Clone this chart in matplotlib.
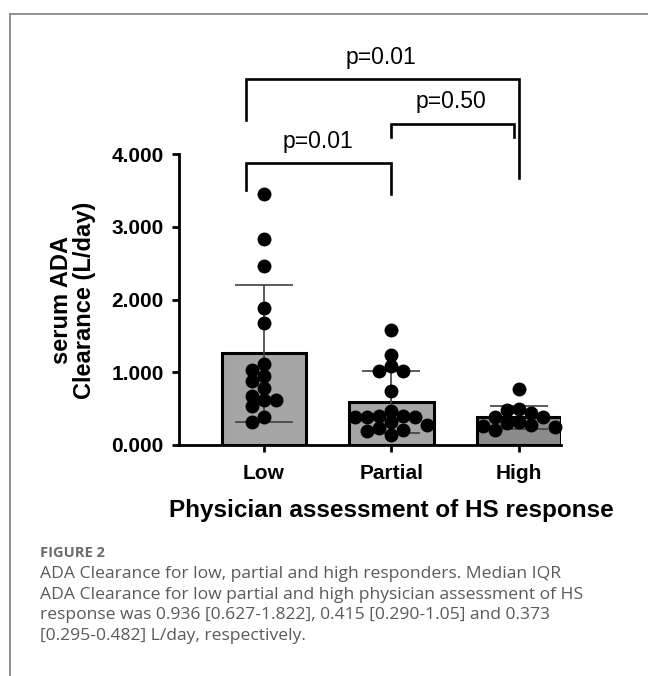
import numpy as np
import matplotlib
matplotlib.use('Agg')
import matplotlib.pyplot as plt
from matplotlib.lines import Line2D

# data
groups = ['Low', 'Partial', 'High']
means = [1.26, 0.59, 0.38]
sds = [0.94, 0.43, 0.16]
low = [3.45, 2.83, 2.46, 1.89, 1.68, 1.11, 1.03, 0.95, 0.88, 0.78, 0.68,
       0.62, 0.62, 0.53, 0.38, 0.31]
partial = [1.58, 1.24, 1.09, 1.02, 1.02, 0.74, 0.47, 0.40, 0.40, 0.38,
           0.38, 0.38, 0.32, 0.27, 0.24, 0.21, 0.19, 0.14]
high = [0.77, 0.49, 0.48, 0.44, 0.38, 0.38, 0.32, 0.30, 0.28, 0.26, 0.25, 0.21]
points = [low, partial, high]
bar_colors = ['#a5a5a5', '#a5a5a5', '#8b8b8b']
# comparisons: (group a, group b, label)
comparisons = [(0, 1, 'p=0.01'), (1, 2, 'p=0.50'), (0, 2, 'p=0.01')]

W, H = 648, 676
fig = plt.figure(figsize=(W / 100, H / 100), dpi=100)
plt.rcParams['font.family'] = ['Liberation Sans', 'DejaVu Sans']

ax_l, ax_r, ax_b, ax_t = 179, 561, 445, 154
ax = fig.add_axes([ax_l / W, 1 - ax_b / H, (ax_r - ax_l) / W, (ax_b - ax_t) / H])
xmin, xmax = -0.667, 2.33
ax.set_xlim(xmin, xmax)
ax.set_ylim(0, 4)
px_x = (ax_r - ax_l) / (xmax - xmin)
px_y = (ax_b - ax_t) / 4.0

x = np.arange(len(groups))
ax.bar(x, means, width=0.66, color=bar_colors, edgecolor='black',
       linewidth=2.2, zorder=1)
ax.errorbar(x, means, yerr=sds, fmt='none', ecolor='#404040', elinewidth=1.2,
            capsize=21, capthick=1.2, zorder=2)


# simple swarm: place each dot as close to the centre as possible
def swarm(vals, diam=12.0):
    placed = []
    order = np.argsort(vals)[::-1]
    out = np.zeros(len(vals))
    for i in order:
        yp = vals[i] * px_y
        best = None
        for k in range(0, 40):
            for s in ([0] if k == 0 else [-1, 1]):
                xo = s * k * diam
                if all((xo - a) ** 2 + (yp - b) ** 2 >= (diam * 0.85) ** 2 for a, b in placed):
                    best = xo
                    break
            if best is not None:
                break
        placed.append((best, yp))
        out[i] = best / px_x
    return out


for i, vals in enumerate(points):
    vals = np.array(vals)
    offs = swarm(vals)
    ax.plot(x[i] + offs, vals, 'o', color='black', markersize=9, zorder=3,
            clip_on=False)

for side in ['top', 'right']:
    ax.spines[side].set_visible(False)
for side in ['left', 'bottom']:
    ax.spines[side].set_linewidth(2)
ax.set_yticks([0, 1, 2, 3, 4])
ax.set_yticklabels(['0.000', '1.000', '2.000', '3.000', '4.000'])
ax.set_xticks(x)
ax.set_xticklabels(groups)
ax.tick_params(axis='both', width=2, length=5, labelsize=15, pad=6)
ax.tick_params(axis='x', pad=9)
for lab in ax.get_xticklabels() + ax.get_yticklabels():
    lab.set_fontweight('bold')

# significance brackets (x in data units, y in data units)
br = [(-0.14, 1.0, 3.88, 3.50, 3.45, 0.42, 4.17),
      (1.0, 1.96, 4.41, 4.24, 4.24, 1.47, 4.72),
      (-0.14, 2.0, 5.03, 4.47, 3.67, 0.92, 5.32)]
for (a, b, lab), (x0, x1, yb, yl, yr, tx, ty) in zip(comparisons, br):
    ax.add_line(Line2D([x0, x0, x1, x1], [yl, yb, yb, yr], color='black',
                       linewidth=1.9, clip_on=False, solid_joinstyle='miter'))
    ax.text(tx, ty, lab, ha='center', va='center', fontsize=16.5, clip_on=False)

fig.text(73 / W, 1 - 300 / H, 'serum ADA\nClearance (L/day)', rotation=90,
         ha='center', va='center', multialignment='center', fontsize=17,
         fontweight='bold', linespacing=1.0)
fig.text(391 / W, 1 - 510 / H, 'Physician assessment of HS response',
         ha='center', va='center', fontsize=17.5, fontweight='bold')

# frame
fig.add_artist(Line2D([10 / W, 1], [1 - 14 / H, 1 - 14 / H], color='#888888',
                      linewidth=1.3))
fig.add_artist(Line2D([10 / W, 10 / W], [0, 1 - 14 / H], color='#888888',
                      linewidth=1.3))

# caption
fig.text(40 / W, 1 - 553 / H, 'FIGURE 2', fontsize=10.5, fontweight='bold',
         color='#6b6b6b', va='center', family=['Open Sans', 'DejaVu Sans'])
caption = ['ADA Clearance for low, partial and high responders. Median IQR',
           'ADA Clearance for low partial and high physician assessment of HS',
           'response was 0.936 [0.627-1.822], 0.415 [0.290-1.05] and 0.373',
           '[0.295-0.482] L/day, respectively.']
for k, line in enumerate(caption):
    fig.text(40 / W, 1 - (574 + 20.6 * k) / H, line, fontsize=12.6,
             color='#5a5a5a', va='center', family=['Open Sans', 'DejaVu Sans'])

fig.savefig('out.png', dpi=100)
